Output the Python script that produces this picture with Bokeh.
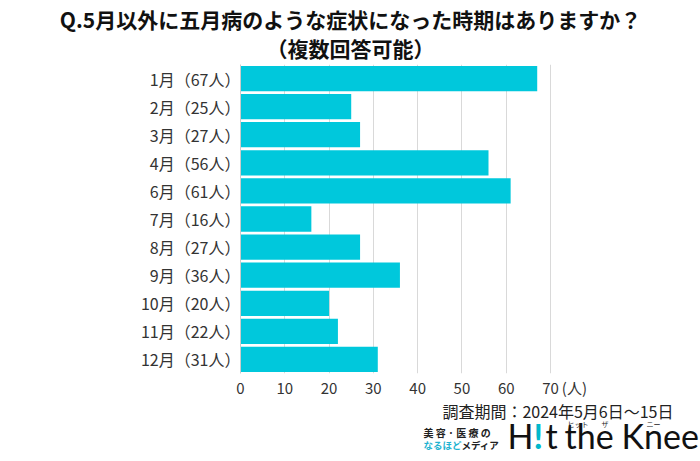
from bokeh.plotting import figure
from bokeh.models import FixedTicker, Range1d
from bokeh.layouts import column
from bokeh.core.properties import value
from bokeh.embed import file_html
from bokeh.resources import INLINE

months = ["1月", "2月", "3月", "4月", "6月", "7月", "8月", "9月", "10月", "11月", "12月"]
counts = [67, 25, 27, 56, 61, 16, 27, 36, 20, 22, 31]
x_ticks = [0, 10, 20, 30, 40, 50, 60, 70]
unit_label = "(人)"
title1 = "Q.5月以外に五月病のような症状になった時期はありますか？"
title2 = "（複数回答可能）"
footer = "調査期間：2024年5月6日～15日"

cats = [f"{m}（{c}人）" for m, c in zip(months, counts)]

W = 700
JP = "Noto Sans CJK JP"
TXT = "#333333"


def blank_fig(h):
    f = figure(width=W, height=h, x_range=Range1d(0, W), y_range=Range1d(h, 0),
               output_backend="svg", toolbar_location=None,
               x_axis_location=None, y_axis_location=None, min_border=0,
               frame_align=False)
    f.grid.visible = False
    f.outline_line_color = None
    return f


# ---- title
TH = 64
tf = blank_fig(TH)
tf.text(x=[350, 350], y=[18, 47], text=[title1, title2], text_font=value(JP),
        text_font_size="21px", text_font_style="bold", text_align="center",
        text_baseline="middle", text_color="#111111")

# ---- chart
BL, BR, BB = 240, 119, 22
MH = 314 + BB
UNIT_POS = 75.4
p = figure(width=W, height=MH, y_range=list(reversed(cats)), x_range=Range1d(0, 77),
           output_backend="svg", toolbar_location=None, frame_align=False,
           min_border_left=BL, min_border_right=BR, min_border_top=0, min_border_bottom=BB)
p.outline_line_color = None
p.hbar(y=cats, right=counts, left=0, height=0.9, color="#00C8DC", line_color=None)

p.xaxis.ticker = FixedTicker(ticks=x_ticks + [UNIT_POS])
p.xaxis.major_label_overrides = {UNIT_POS: unit_label}
p.xaxis.axis_line_color = None
p.xaxis.major_tick_line_color = None
p.xaxis.major_tick_out = 0
p.xaxis.minor_tick_line_color = None
p.xaxis.major_label_text_font = JP
p.xaxis.major_label_text_font_size = "15px"
p.xaxis.major_label_text_color = TXT
p.xaxis.major_label_standoff = 3

p.yaxis.axis_line_color = "#cccccc"
p.yaxis.major_tick_line_color = None
p.yaxis.major_tick_out = 0
p.yaxis.minor_tick_line_color = None
p.yaxis.major_label_text_font = JP
p.yaxis.major_label_text_font_size = "16px"
p.yaxis.major_label_text_color = TXT
p.yaxis.major_label_standoff = 0

p.ygrid.grid_line_color = None
p.xgrid.ticker = FixedTicker(ticks=x_ticks)
p.xgrid.grid_line_color = "#d9d9d9"
p.xgrid.grid_line_width = 1

# ---- footer
FH = 461 - TH - MH
ff = blank_fig(FH)
ff.text(x=[673], y=[10], text=[footer], text_font=value(JP), text_font_size="16px",
        text_align="right", text_baseline="middle", text_color="#222222")
ff.text(x=[423], y=[32], text=["美 容 · 医 療 の"], text_font=value(JP), text_font_size="10px",
        text_font_style="bold", text_baseline="middle", text_color="#222222")
ff.text(x=[423], y=[44], text=["なるほど"], text_font=value(JP), text_font_size="9.5px",
        text_font_style="bold", text_baseline="middle", text_color="#1FB3D1")
ff.text(x=[461], y=[44], text=["メディア"], text_font=value(JP), text_font_size="9.5px",
        text_font_style="bold", text_baseline="middle", text_color="#222222")
LOGO_Y = 35
ff.text(x=[507, 564, 621], y=[LOGO_Y] * 3, text=["H", "the", "Knee"], text_font=value("Lato"),
        text_font_size="34px", text_baseline="middle", text_color="#111111")
ff.text(x=[533], y=[LOGO_Y], text=["!"], text_font=value("Lato"), text_font_size="34px",
        text_font_style="bold", text_baseline="middle", text_color="#00B8CC")
ff.text(x=[545], y=[LOGO_Y], text=["t"], text_font=value("Lato"), text_font_size="34px",
        text_baseline="middle", text_color="#111111")
ff.text(x=[567, 601, 646], y=[23, 23, 23], text=["ヒット", "ザ", "ニー"], text_font=value(JP),
        text_font_size="7px", text_baseline="middle", text_color="#222222")

layout = column(tf, p, ff, spacing=0)
open("out.html", "w").write(file_html(layout, INLINE))
